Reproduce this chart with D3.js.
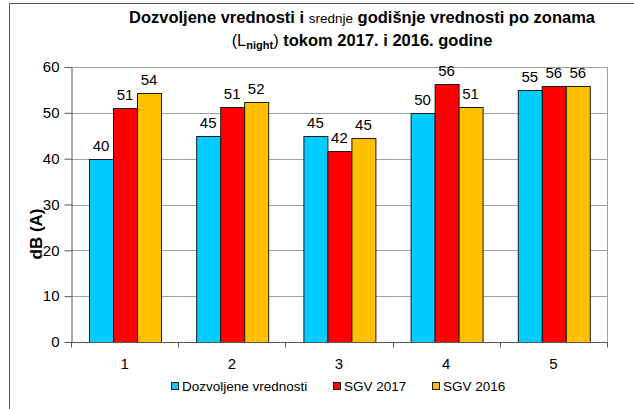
<!DOCTYPE html>
<html lang="sr">
<head>
<meta charset="utf-8">
<title>Dozvoljene vrednosti</title>
<script src="https://cdn.jsdelivr.net/npm/d3@7"></script>
<style>
  body { margin: 0; background: #fff; }
  text { font-family: "Liberation Sans", Arial, sans-serif; }
</style>
</head>
<body>
<script>

var width = 634;
var height = 409;

var zones = ["1", "2", "3", "4", "5"];
var seriesNames = ["Dozvoljene vrednosti", "SGV 2017", "SGV 2016"];
var dozvoljene = [40, 45, 45, 50, 55];
var sgv2017 = [51.0, 51.3, 41.7, 56.2, 55.9];
var sgv2016 = [54.3, 52.3, 44.6, 51.2, 55.8];
var colors = ["#00ccff", "#ff0000", "#ffc000"];
var yTicks = [0, 10, 20, 30, 40, 50, 60];

var allSeries = [dozvoljene, sgv2017, sgv2016];

var svg = d3.select("body").append("svg")
            .attr("width", width)
            .attr("height", height);

// outer frame (left and top only are visible)
svg.append("path")
   .attr("d", "M9.5," + height + "V3.5H" + width)
   .attr("fill", "none")
   .attr("stroke", "#555")
   .attr("stroke-width", 1);

var plot = { left: 71, right: 607, top: 67, bottom: 342 };

var y = d3.scaleLinear()
          .domain([0, 60])
          .range([plot.bottom, plot.top]);

var x0 = d3.scaleBand()
           .domain(zones)
           .range([plot.left, plot.right]);

var x1 = d3.scaleBand()
           .domain(d3.range(seriesNames.length))
           .range([18, 90]);

// gridlines
svg.append("g")
   .selectAll("line")
   .data(yTicks.slice(1))
   .enter()
   .append("line")
   .attr("x1", plot.left)
   .attr("x2", plot.right)
   .attr("y1", function(d) { return Math.round(y(d)) + 0.5; })
   .attr("y2", function(d) { return Math.round(y(d)) + 0.5; })
   .attr("stroke", "#a0a0a0");

// right border of plot area
svg.append("line")
   .attr("x1", plot.right + 0.5).attr("x2", plot.right + 0.5)
   .attr("y1", plot.top).attr("y2", plot.bottom)
   .attr("stroke", "#a0a0a0");

// bars
var groups = svg.append("g")
   .selectAll("g")
   .data(zones)
   .enter()
   .append("g")
   .attr("transform", function(d) { return "translate(" + x0(d) + ",0)"; });

groups.selectAll("rect")
   .data(function(d, i) {
     return allSeries.map(function(s, k) { return { k: k, v: s[i] }; });
   })
   .enter()
   .append("rect")
   .attr("x", function(d) { return Math.round(x1(d.k)) + 0.5; })
   .attr("y", function(d) { return Math.round(y(d.v)) + 0.5; })
   .attr("width", x1.bandwidth())
   .attr("height", function(d) { return plot.bottom - Math.round(y(d.v)); })
   .attr("fill", function(d) { return colors[d.k]; })
   .attr("stroke", "#1a1a1a")
   .attr("stroke-width", 1);

groups.selectAll("text")
   .data(function(d, i) {
     return allSeries.map(function(s, k) { return { k: k, v: s[i] }; });
   })
   .enter()
   .append("text")
   .attr("x", function(d) { return x1(d.k) + x1.bandwidth() / 2; })
   .attr("y", function(d) { return y(d.v) - 8; })
   .attr("text-anchor", "middle")
   .attr("font-size", 15)
   .attr("fill", "#000")
   .text(function(d) { return Math.round(d.v); });

// y axis
var yAxis = svg.append("g")
   .attr("transform", "translate(" + (plot.left + 0.5) + ",0)")
   .call(d3.axisLeft(y).tickValues(yTicks).tickSize(7).tickPadding(5).tickSizeOuter(0));
yAxis.select(".domain").attr("stroke", "#555");
yAxis.selectAll(".tick line").attr("stroke", "#555");
yAxis.selectAll(".tick text")
     .attr("font-size", 15)
     .attr("fill", "#000");

// x axis
var xAxis = svg.append("g")
   .attr("transform", "translate(0," + (plot.bottom + 0.5) + ")");
xAxis.append("line")
   .attr("x1", plot.left).attr("x2", plot.right + 1)
   .attr("stroke", "#555");
xAxis.selectAll("line.tick")
   .data(zones.concat(["end"]))
   .enter()
   .append("line")
   .attr("class", "tick")
   .attr("x1", function(d, i) { return Math.round(plot.left + i * x0.step()) + 0.5; })
   .attr("x2", function(d, i) { return Math.round(plot.left + i * x0.step()) + 0.5; })
   .attr("y1", 0).attr("y2", 5)
   .attr("stroke", "#555");
xAxis.selectAll("text")
   .data(zones)
   .enter()
   .append("text")
   .attr("x", function(d) { return x0(d) + x0.bandwidth() / 2; })
   .attr("y", 26)
   .attr("text-anchor", "middle")
   .attr("font-size", 15)
   .text(function(d) { return d; });

// y axis title
svg.append("text")
   .attr("transform", "translate(42,234) rotate(-90)")
   .attr("text-anchor", "middle")
   .attr("font-size", 17)
   .attr("font-weight", "bold")
   .text("dB (A)");

// title
var t1 = svg.append("text")
   .attr("x", 362).attr("y", 23)
   .attr("text-anchor", "middle")
   .attr("font-size", 16.5)
   .attr("font-weight", "bold");
t1.append("tspan").text("Dozvoljene vrednosti i ");
t1.append("tspan").attr("font-weight", "normal").attr("font-size", 13.5).text("srednje");
t1.append("tspan").text(" godišnje vrednosti po zonama");

var t2 = svg.append("text")
   .attr("x", 362).attr("y", 46)
   .attr("text-anchor", "middle")
   .attr("font-size", 16.5)
   .attr("font-weight", "bold");
t2.append("tspan").attr("font-weight", "normal").text("(L");
t2.append("tspan").attr("font-size", 11).attr("dy", 3).text("night");
t2.append("tspan").attr("font-weight", "normal").attr("dy", -3).text(")");
t2.append("tspan").text(" tokom 2017. i 2016. godine");

// legend
var legendX = [171, 333, 432];
var legend = svg.append("g")
   .selectAll("g")
   .data(seriesNames)
   .enter()
   .append("g")
   .attr("transform", function(d, i) { return "translate(" + legendX[i] + ",382)"; });
legend.append("rect")
   .attr("x", 0.5).attr("y", 0.5)
   .attr("width", 7).attr("height", 7)
   .attr("fill", function(d, i) { return colors[i]; })
   .attr("stroke", "#1a1a1a");
legend.append("text")
   .attr("x", 11).attr("y", 9)
   .attr("font-size", 13.5)
   .text(function(d) { return d; });

</script>
</body>
</html>
